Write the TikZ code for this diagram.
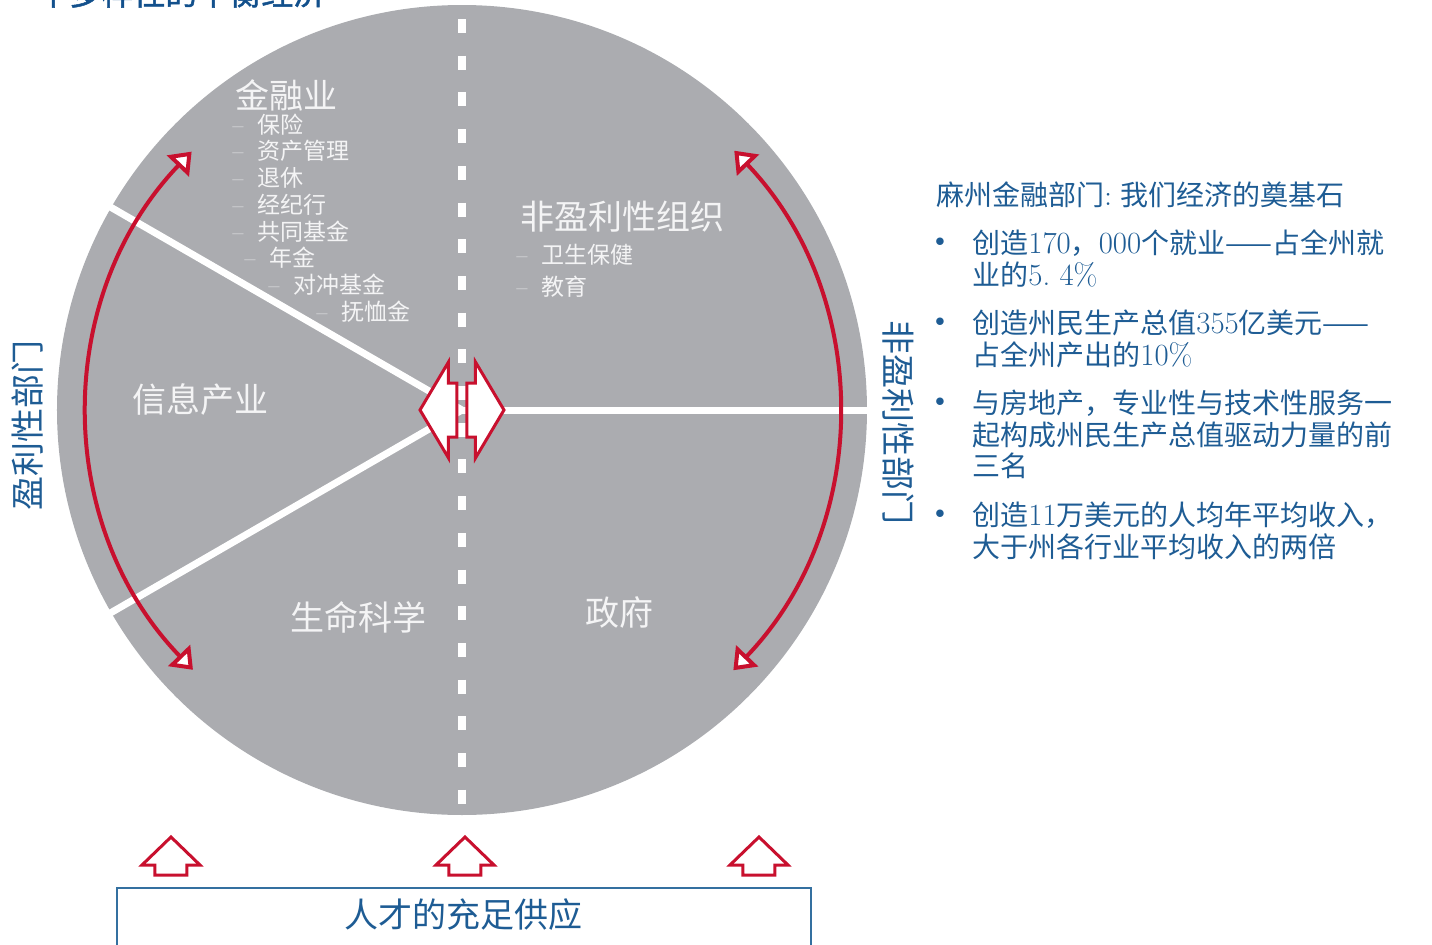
\documentclass[tikz,border=0pt]{standalone}
\usepackage{fontspec}
\newfontfamily\cjk{Noto Sans CJK SC}
\newfontfamily\cjktitle{Noto Sans CJK SC}[FakeBold=1.5]
\newfontfamily\lmdigits{Latin Modern Roman}[Scale=1.1]
\usetikzlibrary{arrows.meta}
\definecolor{sectorgray}{RGB}{171,172,176}
\definecolor{labelwhite}{RGB}{244,244,245}
\definecolor{textblue}{RGB}{30,92,148}
\definecolor{titleblue}{RGB}{18,80,140}
\definecolor{boxblue}{RGB}{52,112,160}
\definecolor{arrowred}{RGB}{200,16,46}
\newcommand\dig[1]{{\lmdigits #1}}
\newcommand\itm{{\rmfamily –}\hspace{7pt}}
\tikzset{
  sector/.style={text=labelwhite, font=\cjk\fontsize{17}{20}\selectfont, anchor=west, inner sep=0pt},
  subitem/.style={text=labelwhite, font=\cjk\fontsize{11.5}{13}\selectfont, anchor=west, inner sep=0pt},
  side/.style={text=textblue, font=\cjk\fontsize{17}{20}\selectfont, inner sep=0pt},
  fact/.style={text=textblue, font=\cjk\fontsize{14}{16}\selectfont, anchor=west, inner sep=0pt},
  bulletdot/.style={text=textblue, font=\rmfamily\fontsize{14}{16}\selectfont, inner sep=0pt},
  blockarrow/.style={draw=arrowred, fill=white, line width=1.5pt, line join=miter},
  swing/.style={draw=arrowred, line width=2pt,
    {Triangle[fill=white,length=10pt,width=15pt]}-{Triangle[fill=white,length=10pt,width=15pt]}},
}

\begin{document}
\begin{tikzpicture}[x=0.5pt, y=0.5pt]
    \useasboundingbox (-462,-534) rectangle (970,410);
    % title, cut at the top edge
    \node[anchor=base west, text=titleblue, font=\cjktitle\fontsize{16}{18}\selectfont, inner sep=0pt] (title) at (-457,405) {一个多样性的平衡经济};
    % the wheel
    \fill[sectorgray] (0,0) circle[radius=405];
    \draw[white, line width=3.5pt] (0,0) -- (150:412);
    \draw[white, line width=3.5pt] (0,0) -- (210:412);
    \draw[white, line width=3.5pt] (0,0) -- (0:412);
    \draw[white, line width=4pt, dash pattern=on 7pt off 11.35pt] (0,391) -- (0,-405);
    % sectors
    \node[sector] (fin) at (-227,315) {金融业};
    \node[subitem] (finA) at (-230,285) {\itm 保险};
    \node[subitem] (finB) at (-230,259) {\itm 资产管理};
    \node[subitem] (finC) at (-230,232) {\itm 退休};
    \node[subitem] (finD) at (-230,205) {\itm 经纪行};
    \node[subitem] (finE) at (-230,178) {\itm 共同基金};
    \node[subitem] (finF) at (-218,152) {\itm 年金};
    \node[subitem] (finG) at (-194,125) {\itm 对冲基金};
    \node[subitem] (finH) at (-146,98) {\itm 抚恤金};
    \node[sector] (npo) at (58,193) {非盈利性组织};
    \node[subitem] (npoA) at (54,155) {\itm 卫生保健};
    \node[subitem] (npoB) at (54,123) {\itm 教育};
    \node[sector] (info) at (-330,10) {信息产业};
    \node[sector] (life) at (-172,-207) {生命科学};
    \node[sector] (gov) at (123,-202) {政府};
    % centre double arrow
    \draw[blockarrow] (-42,0) -- (-13.5,48) -- (-13.5,27) -- (-5,27) -- (-5,-27) -- (-13.5,-27) -- (-13.5,-48) -- cycle;
    \draw[blockarrow] (42,0) -- (13.5,48) -- (13.5,27) -- (5,27) -- (5,-27) -- (13.5,-27) -- (13.5,-48) -- cycle;
    % swings between sectors
    \coordinate (profitTop) at (136.3:374);
    \coordinate (npoTop) at (43.6:376);
    \draw[swing] (profitTop) arc[start angle=136.3, end angle=224, radius=374];
    \draw[swing] (npoTop) arc[start angle=43.6, end angle=-43.8, radius=376];
    \node[side, rotate=90] (profit) at (-434,-15) {盈利性部门};
    \node[side, rotate=-90] (nonprofit) at (436,-12) {非盈利性部门};
    % talent supply
    \foreach \ux in {-291,3,297}
        \draw[blockarrow] (\ux,-427) -- (\ux+29,-455) -- (\ux+16,-455) -- (\ux+16,-465) -- (\ux-16,-465) -- (\ux-16,-455) -- (\ux-29,-455) -- cycle;
    \draw[boxblue, line width=1pt] (-345,-600) -- (-345,-478) -- (349,-478) -- (349,-600);
    \node[side] (talent) at (2,-505) {人才的充足供应};
    % facts
    \node[fact] (head) at (474,215) {麻州金融部门{\rmfamily:} 我们经济的奠基石};
    \node[bulletdot] (b1) at (478,167) {\textbullet};
    \node[fact] (f1a) at (510,167) {创造\dig{170}，\dig{000}个就业——占全州就};
    \node[fact] (f1b) at (510,135) {业的\dig{5.\ 4\%}};
    \node[bulletdot] (b2) at (478,87) {\textbullet};
    \node[fact] (f2a) at (510,87) {创造州民生产总值\dig{355}亿美元——};
    \node[fact] (f2b) at (510,55) {占全州产出的\dig{10\%}};
    \node[bulletdot] (b3) at (478,7) {\textbullet};
    \node[fact] (f3a) at (510,7) {与房地产，专业性与技术性服务一};
    \node[fact] (f3b) at (510,-25) {起构成州民生产总值驱动力量的前};
    \node[fact] (f3c) at (510,-56) {三名};
    \node[bulletdot] (b4) at (478,-105) {\textbullet};
    \node[fact] (f4a) at (510,-105) {创造\dig{11}万美元的人均年平均收入，};
    \node[fact] (f4b) at (510,-137) {大于州各行业平均收入的两倍};
\end{tikzpicture}
\end{document}
